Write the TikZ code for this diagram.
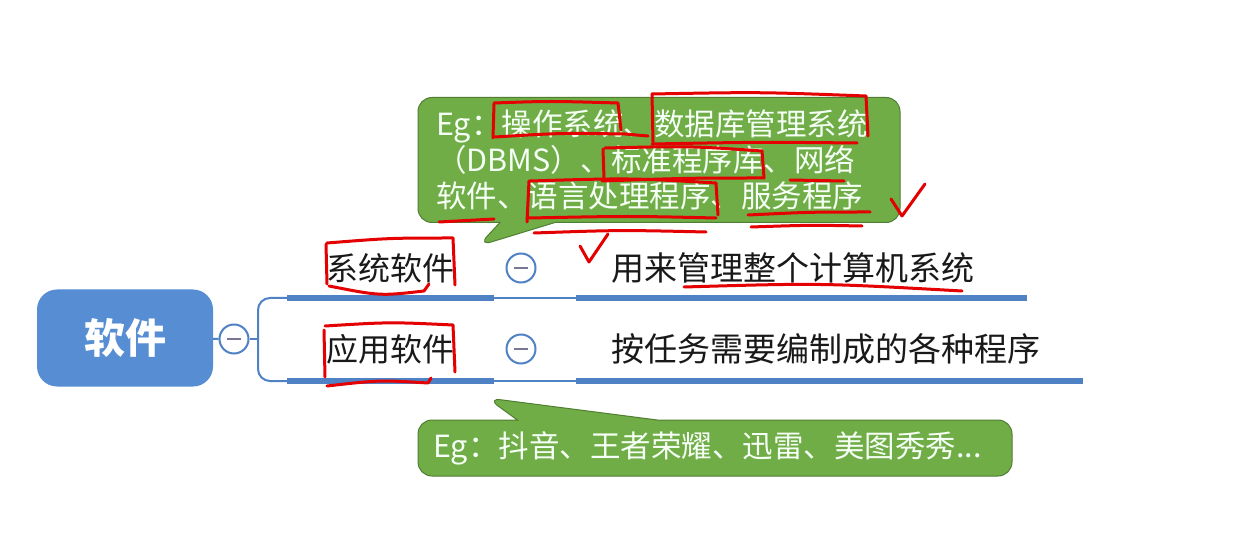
\documentclass[tikz,border=0pt]{standalone}
\usepackage{fontspec}
\setmainfont{Noto Sans CJK SC}
\usetikzlibrary{shapes.callouts}
\definecolor{rootblue}{RGB}{86,141,211}
\definecolor{barblue}{RGB}{79,130,196}
\definecolor{cgreen}{RGB}{112,173,71}
\definecolor{cgreenb}{RGB}{80,126,50}
\definecolor{minusgray}{RGB}{120,120,150}
\definecolor{anno}{RGB}{228,0,0}
\begin{document}
\begin{tikzpicture}[x=1pt,y=-1pt,
  rootbox/.style={rounded corners=20pt, fill=rootblue, text=white, minimum width=176pt, minimum height=97pt, inner sep=0pt, font=\fontsize{41}{46}\selectfont\bfseries},
  toggle/.style={circle, draw=barblue, line width=2pt, fill=white, minimum size=29pt, inner sep=0pt,
    path picture={\draw[minusgray,line width=2.6pt] ([xshift=-7pt]path picture bounding box.center) -- ([xshift=7pt]path picture bounding box.center);}},
  branchtext/.style={font=\fontsize{32}{36}\selectfont, text=black!90, inner sep=0pt},
  desctext/.style={font=\fontsize{33}{38}\selectfont, text=black!90, inner sep=0pt},
  thickbar/.style={draw=barblue, line width=6pt},
  thinbar/.style={draw=barblue, line width=2pt},
  greencallout/.style={rectangle callout, rounded corners=14pt, fill=cgreen, draw=cgreenb, line width=1pt, text=white!96!green, font=\fontsize{30.5}{36}\selectfont, align=left, inner ysep=4pt},
  annostroke/.style={draw=anno, line width=3pt, line cap=round, line join=round}
]
\path[use as bounding box, fill=white] (0,0) rectangle (1237,545);

% root
\node[rootbox] (root) at (125,338) {软件};
\node[toggle] (t0) at (234,339) {};
\coordinate (j) at (258,339);
\coordinate (b1) at (287,298);
\coordinate (b2) at (287,381);
\coordinate (m1) at (494,298);
\coordinate (n1) at (576,298);
\coordinate (e1) at (1027,298);
\coordinate (m2) at (494,381);
\coordinate (n2) at (576,381);
\coordinate (e2) at (1083,381);

\draw[thinbar] (root) -- (t0);
\draw[thinbar] (t0) -- (j);
\draw[thinbar, rounded corners=12pt] (b1) -| (j) |- (b2);
\draw[thickbar] (b1) -- (m1);
\draw[thinbar] (m1) -- (n1);
\draw[thickbar] (n1) -- (e1);
\draw[thickbar] (b2) -- (m2);
\draw[thinbar] (m2) -- (n2);
\draw[thickbar] (n2) -- (e2);

% branches
\node[branchtext] (sys) at (390,268) {系统软件};
\node[branchtext] (app) at (390,349) {应用软件};
\node[toggle] (t1) at (521,268) {};
\node[toggle] (t2) at (521,349) {};
\node[desctext, anchor=west] (d1) at (611,268) {用来管理整个计算机系统};
\node[desctext, anchor=west] (d2) at (611,349) {按任务需要编制成的各种程序};

% callouts
\coordinate (tip1) at (478,246);
\coordinate (tip2) at (487,398);
\node[greencallout, callout absolute pointer={(tip1)}, callout pointer width=55pt,
      minimum width=482pt, minimum height=125pt, text width=446pt, inner xsep=17pt] (c1) at (659,160)
  {Eg：操作系统、数据库管理系统\\（DBMS）、标准程序库、网络\\软件、语言处理程序、服务程序};
\node[greencallout, callout absolute pointer={(tip2)}, callout pointer width=140pt,
      minimum width=594pt, minimum height=56pt, text width=564pt, inner xsep=15pt] (c2) at (715,448)
  {Eg：抖音、王者荣耀、迅雷、美图秀秀...};

% red handwritten annotations
\draw[annostroke] (494,104) -- (493,138);
\draw[annostroke] (494,103) .. controls (550,101) .. (618,103) -- (621,130);
\draw[annostroke] (495,137) .. controls (560,133) .. (625,134) -- (648,136);
\draw[annostroke] (652,94) -- (653,142);
\draw[annostroke] (652,94) .. controls (760,92) .. (866,96) -- (868,136);
\draw[annostroke] (652,144) .. controls (760,142) .. (857,143);
\draw[annostroke] (603,149) -- (604,178);
\draw[annostroke] (605,148) .. controls (690,146) .. (762,151) -- (764,178);
\draw[annostroke] (602,181) .. controls (690,178) .. (764,178);
\draw[annostroke] (790,180) -- (844,181);
\draw[annostroke] (529,181) -- (527,222);
\draw[annostroke] (530,181) .. controls (630,178) .. (716,183) -- (718,215);
\draw[annostroke] (529,218) .. controls (630,216) .. (716,218);
\draw[annostroke] (534,233) .. controls (620,230) .. (706,232);
\draw[annostroke] (439,222) -- (494,219);
\draw[annostroke] (748,215) .. controls (810,212) .. (870,212);
\draw[annostroke] (751,227) .. controls (810,225) .. (862,226);
\draw[annostroke] (891,199) -- (902,216) -- (925,184);
\draw[annostroke] (580,246) -- (589,262) -- (608,234);
\draw[annostroke] (326,244) -- (327,284);
\draw[annostroke] (327,243) .. controls (390,238) .. (453,238) -- (455,285);
\draw[annostroke] (329,286) .. controls (380,296) .. (424,291) -- (429,284);
\draw[annostroke] (324,330) -- (325,377);
\draw[annostroke] (325,326) .. controls (390,322) .. (453,325) -- (455,372);
\draw[annostroke] (327,386) .. controls (380,380) .. (428,383) -- (431,378);
\draw[annostroke] (684,287) .. controls (820,283) .. (962,291);
\end{tikzpicture}
\end{document}
